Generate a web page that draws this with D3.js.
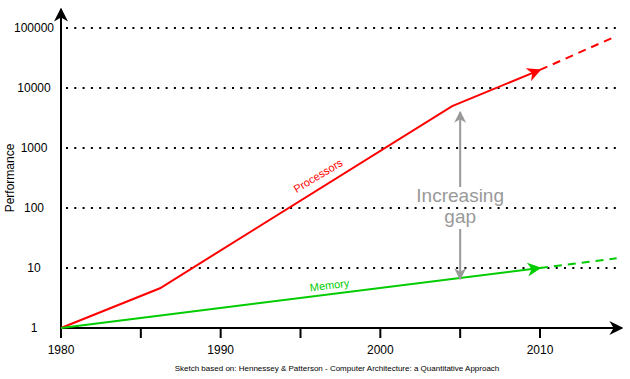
<!DOCTYPE html>
<html><head><meta charset="utf-8">
<script src="https://cdn.jsdelivr.net/npm/d3@7"></script>
<style>body{margin:0;background:#fff}svg{display:block;font-family:"Liberation Sans",Arial,sans-serif}</style>
</head><body>
<svg id="c" width="630" height="379"></svg>
<script>
const yTicks = [1, 10, 100, 1000, 10000, 100000];
const xTickLabels = [1980, 1990, 2000, 2010];
const xTickMarks = [1980, 1985, 1990, 1995, 2000, 2005, 2010];
const procYears = [1980, 1986.2, 2004.5, 2010];
const procVals = [1, 4.6, 5000, 20000];
const procProjYears = [2010, 2014.5];
const procProjVals = [20000, 68000];
const memYears = [1980, 2010];
const memVals = [1, 10];
const memProjYears = [2010, 2014.8];
const memProjVals = [10, 14.5];
const gapYear = 2005;
const gapRange = [5000, 6.8];

const svg = d3.select("#c");
const x = d3.scaleLinear().domain([1980, 2010]).range([61, 540]);
const y = d3.scaleLog().domain([1, 100000]).range([328, 28]);

const defs = svg.append("defs");
function marker(id, color, size) {
  defs.append("marker").attr("id", id).attr("viewBox", "0 0 10 10")
    .attr("refX", 9).attr("refY", 5).attr("markerWidth", size).attr("markerHeight", size)
    .attr("markerUnits", "userSpaceOnUse").attr("orient", "auto")
    .append("path").attr("d", "M0,0 L10,5 L0,10 L3,5 Z").attr("fill", color);
}
marker("ak", "#000", 14); marker("ar", "#ff0000", 14); marker("ag", "#00cc00", 14); marker("ay", "#999", 12);

// gridlines
svg.append("g").selectAll("line").data(yTicks).join("line")
  .attr("x1", 66).attr("x2", 618).attr("y1", d => y(d)).attr("y2", d => y(d))
  .attr("stroke", "#000").attr("stroke-width", 2).attr("stroke-dasharray", "2 6.3");

// y tick labels
svg.append("g").selectAll("text").data(yTicks).join("text")
  .attr("x", 34).attr("y", d => y(d) + 4).attr("text-anchor", "middle")
  .attr("font-size", 12).text(d => d);

// x axis ticks
svg.append("g").selectAll("line").data(xTickMarks).join("line")
  .attr("x1", d => x(d)).attr("x2", d => x(d)).attr("y1", 328).attr("y2", 338)
  .attr("stroke", "#000").attr("stroke-width", 2);
svg.append("g").selectAll("text").data(xTickLabels).join("text")
  .attr("x", d => x(d)).attr("y", 354).attr("text-anchor", "middle")
  .attr("font-size", 12).text(d => d);

// axes
svg.append("line").attr("x1", 61).attr("x2", 622).attr("y1", 328).attr("y2", 328)
  .attr("stroke", "#000").attr("stroke-width", 2).attr("marker-end", "url(#ak)");
svg.append("line").attr("x1", 61).attr("x2", 61).attr("y1", 338).attr("y2", 9)
  .attr("stroke", "#000").attr("stroke-width", 2).attr("marker-end", "url(#ak)");

const line = d3.line().x(d => x(d[0])).y(d => y(d[1]));
function series(years, vals, color, dash, mk) {
  const p = svg.append("path").datum(years.map((yr, i) => [yr, vals[i]]))
    .attr("d", line).attr("fill", "none").attr("stroke", color).attr("stroke-width", 2);
  if (dash) p.attr("stroke-dasharray", "8 6");
  if (mk) p.attr("marker-end", mk);
}
series(procYears, procVals, "#ff0000", false, "url(#ar)");
series(procProjYears, procProjVals, "#ff0000", true, null);
series(memYears, memVals, "#00cc00", false, "url(#ag)");
series(memProjYears, memProjVals, "#00cc00", true, null);

// gap arrow
const gx = x(gapYear);
svg.append("line").attr("x1", gx).attr("x2", gx).attr("y1", 187).attr("y2", y(gapRange[0]) + 6)
  .attr("stroke", "#999").attr("stroke-width", 2).attr("marker-end", "url(#ay)");
svg.append("line").attr("x1", gx).attr("x2", gx).attr("y1", 229).attr("y2", y(gapRange[1]) + 1)
  .attr("stroke", "#999").attr("stroke-width", 2).attr("marker-end", "url(#ay)");
svg.append("text").attr("x", gx).attr("y", 202).attr("text-anchor", "middle")
  .attr("font-size", 19).attr("fill", "#999").text("Increasing");
svg.append("text").attr("x", gx).attr("y", 223).attr("text-anchor", "middle")
  .attr("font-size", 19).attr("fill", "#999").text("gap");

// series labels
svg.append("text").attr("transform", "translate(320,179) rotate(-31)").attr("text-anchor", "middle")
  .attr("font-size", 11).attr("fill", "#ff0000").text("Processors");
svg.append("text").attr("transform", "translate(330,289) rotate(-7)").attr("text-anchor", "middle")
  .attr("font-size", 11).attr("fill", "#00cc00").text("Memory");

svg.append("text").attr("transform", "translate(14,178) rotate(-90)").attr("text-anchor", "middle")
  .attr("font-size", 12).text("Performance");
svg.append("text").attr("x", 337).attr("y", 371).attr("text-anchor", "middle")
  .attr("font-size", 8).text("Sketch based on: Hennessey & Patterson - Computer Architecture: a Quantitative Approach");
</script>
</body></html>
